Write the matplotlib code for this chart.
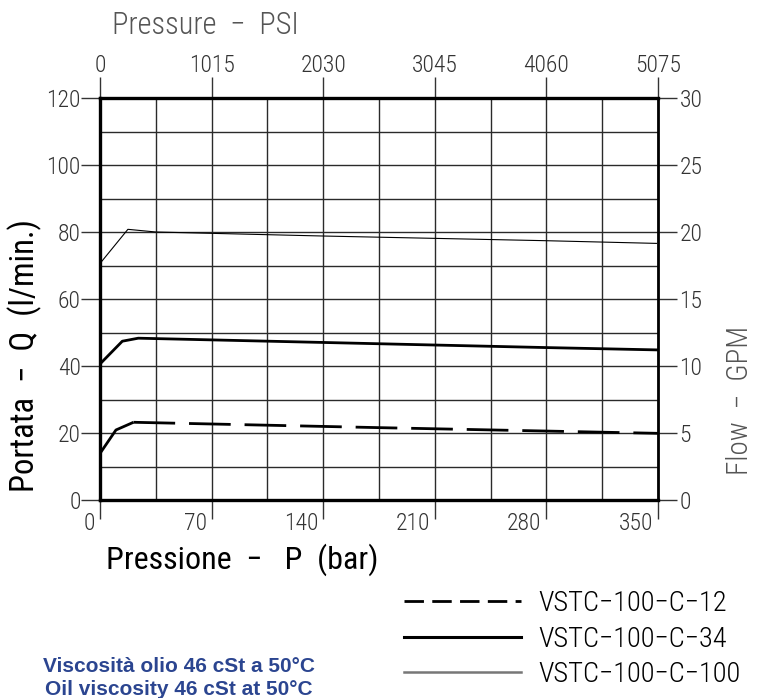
import matplotlib
matplotlib.use("Agg")
import matplotlib.pyplot as plt
from matplotlib import font_manager
from matplotlib.lines import Line2D
from matplotlib.transforms import ScaledTranslation

# Données (pression en bar, débit en l/min)
bar_ticks = [0, 70, 140, 210, 280, 350]
psi_ticks = [0, 1015, 2030, 3045, 4060, 5075]
lmin_ticks = [0, 20, 40, 60, 80, 100, 120]
gpm_ticks = [0, 5, 10, 15, 20, 25, 30]

c12_rise_p = [0, 10, 21]
c12_rise_q = [13.9, 20.9, 23.2]
c12_p = [21, 175, 350]
c12_q = [23.2, 21.6, 19.9]

c34_p = [0, 14, 24, 188, 280, 350]
c34_q = [40.6, 47.4, 48.3, 46.5, 45.5, 44.8]

c100_p = [0, 17.5, 35, 140, 210, 280, 349]
c100_q = [70.6, 80.8, 80.0, 78.8, 78.1, 77.4, 76.6]

labels = ["VSTC\u2212100\u2212C\u221212", "VSTC\u2212100\u2212C\u221234", "VSTC\u2212100\u2212C\u2212100"]

# Police étroite type dessin technique
names = {f.name for f in font_manager.fontManager.ttflist}
narrow = "DejaVu Sans"
for cand in ["Roboto Condensed", "Liberation Sans Narrow", "Open Sans Condensed"]:
    if cand in names:
        narrow = cand
        break
plt.rcParams['font.family'] = [narrow, 'DejaVu Sans']
plt.rcParams['font.weight'] = 'light'

W, H = 761, 698
fig = plt.figure(figsize=(W / 100, H / 100), dpi=100)
ax = fig.add_axes([100 / W, 1 - 500 / H, 558 / W, 402 / H])

# Courbes
ax.plot(c100_p, c100_q, color='black', lw=0.8, zorder=3)
ax.plot(c34_p, c34_q, color='black', lw=2.0, zorder=3)
ax.plot(c12_rise_p, c12_rise_q, color='black', lw=2.0, zorder=3, solid_capstyle='butt')
ax.plot(c12_p, c12_q, color='black', lw=2.0, dashes=(15, 5), zorder=3)

ax.set_xlim(0, 350)
ax.set_ylim(0, 120)

# Grille
ax.set_xticks(bar_ticks)
ax.set_xticklabels([str(v) for v in bar_ticks], ha='right')
ax.set_xticks([35 * i for i in range(11)], minor=True)
ax.set_yticks(lmin_ticks)
ax.set_yticks([10 * i for i in range(13)], minor=True)
ax.set_axisbelow(True)
ax.grid(which='both', color='#2a2a2a', lw=1.0)

tick_col = '#333333'
ax.tick_params(which='minor', length=0)
ax.tick_params(axis='x', which='major', direction='out', length=14, width=1.0,
               color=tick_col, labelsize=17, labelcolor=tick_col, pad=-5)
ax.tick_params(axis='y', which='major', direction='out', length=14, width=1.0,
               color=tick_col, labelsize=17, labelcolor=tick_col, pad=0)

# Étiquettes du bas décalées à gauche du trait
shift = ScaledTranslation(-5 / 100, 0, fig.dpi_scale_trans)
for lbl in ax.get_xticklabels():
    lbl.set_transform(lbl.get_transform() + shift)

for side in ['top', 'left', 'bottom']:
    ax.spines[side].set_linewidth(2.4)
ax.spines['right'].set_linewidth(2.0)

# Axe secondaire haut : PSI
top = ax.secondary_xaxis('top', functions=(lambda b: b * 14.5, lambda p: p / 14.5))
top.set_xticks(psi_ticks)
top.tick_params(direction='out', length=15, width=1.0, color=tick_col,
                labelsize=17, labelcolor=tick_col, pad=0)
top.spines['top'].set_visible(False)

# Axe secondaire droit : GPM
right = ax.secondary_yaxis('right', functions=(lambda q: q / 4, lambda g: g * 4))
right.set_yticks(gpm_ticks)
right.tick_params(direction='out', length=14, width=1.0, color=tick_col,
                  labelsize=17, labelcolor=tick_col, pad=1.5)
right.spines['right'].set_visible(False)

# Titres d'axes
fig.text(205 / W, 1 - 25 / H, "Pressure  \u2212  PSI", fontsize=22, color='#555555',
         ha='center', va='center')
fig.text(106 / W, 1 - 560 / H, "Pressione  \u2212   P  (bar)", fontsize=23, color='black',
         ha='left', va='center', fontweight='normal')
fig.text(25 / W, 1 - 356 / H, "Portata  \u2212  Q  (l/min.)", fontsize=23.5, color='black',
         ha='center', va='center', rotation=90, fontweight='normal')
fig.text(740 / W, 1 - 400 / H, "Flow  \u2212  GPM", fontsize=21, color='#555555',
         ha='center', va='center', rotation=90)

# Légende
handles = [
    Line2D([], [], color='black', lw=2.0, dashes=(7, 3)),
    Line2D([], [], color='black', lw=2.2),
    Line2D([], [], color='#777777', lw=1.8),
]
fig.legend(handles, labels, loc='upper left', bbox_to_anchor=(404 / W, 1 - 590 / H),
           frameon=False, fontsize=20.5, handlelength=4.1, handletextpad=0.62,
           labelspacing=0.3, borderpad=0, borderaxespad=0)

# Note viscosité
fig.text(179 / W, 1 - 678 / H, "Viscosità olio 46 cSt a 50°C\nOil viscosity 46 cSt at 50°C",
         fontsize=15, color='#2b4590', fontweight='bold', family=['Liberation Sans', 'DejaVu Sans'],
         ha='center', va='center', linespacing=1.3)

fig.savefig("out.png", dpi=100)
